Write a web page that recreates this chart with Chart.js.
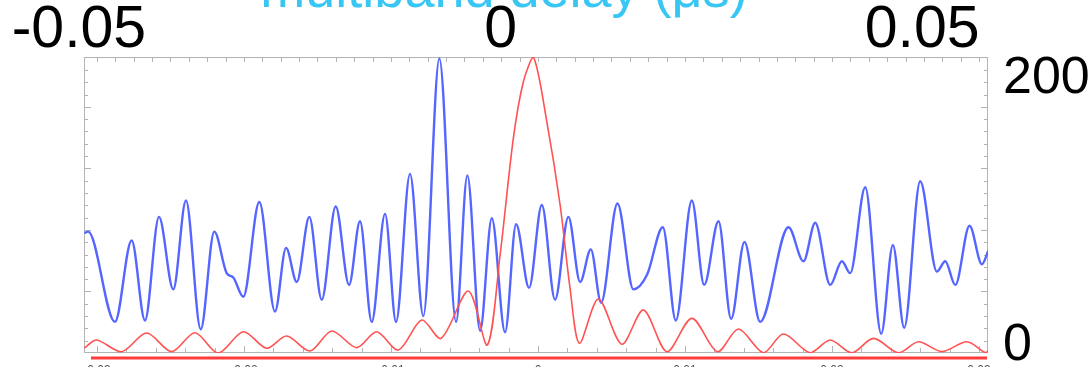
<!DOCTYPE html>
<html>
<head>
<meta charset="utf-8">
<script src="https://cdn.jsdelivr.net/npm/chart.js@4.4.1/dist/chart.umd.min.js"></script>
<style>
  html, body { margin: 0; padding: 0; background: #ffffff; }
  #wrap { position: relative; width: 1091px; height: 367px; }
</style>
</head>
<body>
<div id="wrap"><canvas id="c"></canvas></div>
<script>
// Top axis: multiband delay (μs)
const delayTicks = [-0.05, 0, 0.05];
const delayTickLabels = ['-0.05', '0', '0.05'];

// Right axis: amplitude
const amplitudeTicks = [0, 200];
const amplitudeTickLabels = ['0', '200'];

// Inner frame axis (bottom edge)
const innerTicks = [-0.03, -0.02, -0.01, 0, 0.01, 0.02, 0.03];
const innerTickLabels = ['-0.03', '-0.02', '-0.01', '0', '0.01', '0.02', '0.03'];

// Blue trace: delay positions and amplitudes of its turning points
const blueDelay = [-0.04935, -0.04890, -0.04573, -0.04375, -0.04217, -0.04051, -0.03881, -0.03731, -0.03556, -0.03395,
  -0.03248, -0.03170, -0.03051, -0.02861, -0.02675, -0.02544, -0.02417, -0.02268, -0.02121, -0.01955,
  -0.01797, -0.01667, -0.01528, -0.01370, -0.01240, -0.01074, -0.00916, -0.00726, -0.00528, -0.00394,
  -0.00243, -0.00104, 0.00053, 0.00184, 0.00338, 0.00489, 0.00646, 0.00804, 0.00943, 0.01070,
  0.01192, 0.01386, 0.01575, 0.01738, 0.01924, 0.02078, 0.02268, 0.02414, 0.02584, 0.02734,
  0.02892, 0.03078, 0.03414, 0.03592, 0.03731, 0.03909, 0.04047, 0.04146, 0.04324, 0.04514,
  0.04652, 0.04786, 0.04976, 0.05174, 0.05273, 0.05392, 0.05561, 0.05708, 0.05783];
const blueAmp = [81, 82, 21, 76, 22, 92, 43, 103, 16, 82,
  54, 51, 38, 102, 28, 71, 48, 92, 36, 99,
  46, 89, 21, 94, 21, 121, 25, 199, 21, 120,
  15, 91, 14, 87, 44, 100, 36, 92, 48, 70,
  34, 101, 43, 53, 85, 22, 103, 46, 89, 23,
  75, 21, 85, 62, 88, 46, 62, 54, 112, 13,
  73, 17, 116, 55, 62, 46, 86, 60, 69];

// Red trace: delay positions and amplitudes (lobe peaks and nulls)
const redDelay = [-0.04935, -0.04790, -0.04494, -0.04197, -0.03900, -0.03624, -0.03348, -0.03051, -0.02774, -0.02536,
  -0.02260, -0.02002, -0.01706, -0.01469, -0.01212, -0.00935, -0.00706, -0.00382, -0.00157, -0.00006,
  0.00152, 0.00270, 0.00389, 0.00548, 0.00706, 0.00824, 0.00935, 0.01160, 0.01438, 0.01694,
  0.01972, 0.02268, 0.02572, 0.02821, 0.03117, 0.03355, 0.03671, 0.03909, 0.04166, 0.04422,
  0.04719, 0.04956, 0.05234, 0.05530, 0.05747, 0.05783];
const redAmp = [3.4, 8.8, 0.9, 13.5, 0.9, 13.7, 0, 14.4, 3.2, 11.5,
  1.4, 14.9, 3.6, 14.4, 2.0, 22.3, 9.9, 41.9, 5.4, 66.2,
  145.3, 183.3, 200, 156.3, 100, 43.7, 6.6, 36.5, 5.9, 29.1,
  0.9, 23.4, 0.9, 16.2, 0.2, 12.8, 0.2, 8.8, 0.2, 9.9,
  0.2, 7.6, 0.9, 7.6, 0.2, 1.4];

const toPoints = (xs, ys) => xs.map((x, i) => ({ x: x, y: ys[i] }));
const labelFor = (values, labels) => (v) => {
  const i = values.findIndex(t => Math.abs(t - v) < 1e-9);
  return i >= 0 ? labels[i] : '';
};

// Plot frame, inward tick marks, bottom red rule and the title
const frameDecor = {
  id: 'frameDecor',
  beforeDatasetsDraw(chart) {
    const { ctx, chartArea: a, scales } = chart;
    const xi = scales.x2, yi = scales.yi;
    ctx.save();
    ctx.strokeStyle = '#b4b4b4';
    ctx.lineWidth = 1;
    ctx.strokeRect(a.left + 0.5, a.top + 0.5, a.right - a.left - 1, a.bottom - a.top - 1);
    ctx.beginPath();
    for (let k = -26; k <= 26; k++) {
      const px = Math.round(xi.getPixelForValue(k * 0.00125)) + 0.5;
      if (px <= a.left + 2 || px >= a.right - 2) continue;
      ctx.moveTo(px, a.top); ctx.lineTo(px, a.top + 5);
    }
    for (let k = -16; k <= 16; k++) {
      const px = Math.round(xi.getPixelForValue(k * 0.002)) + 0.5;
      if (px <= a.left + 2 || px >= a.right - 2) continue;
      const len = (k % 5 === 0) ? 7 : 5;
      ctx.moveTo(px, a.bottom); ctx.lineTo(px, a.bottom - len);
    }
    for (let k = 1; k <= 24; k++) {
      const py = Math.round(yi.getPixelForValue(k * 0.2)) + 0.5;
      if (py <= a.top + 2) continue;
      const len = (k % 5 === 0) ? 7 : 4;
      ctx.moveTo(a.left, py); ctx.lineTo(a.left + len, py);
      ctx.moveTo(a.right, py); ctx.lineTo(a.right - len, py);
    }
    ctx.stroke();
    ctx.restore();
  },
  afterDatasetsDraw(chart) {
    const { ctx, chartArea: a } = chart;
    ctx.save();
    ctx.strokeStyle = '#ff3c3c';
    ctx.lineWidth = 3;
    ctx.beginPath();
    ctx.moveTo(a.left + 7, a.bottom + 5);
    ctx.lineTo(a.right - 1, a.bottom + 5);
    ctx.stroke();
    ctx.restore();
  },
  afterDraw(chart) {
    const { ctx } = chart;
    ctx.save();
    ctx.font = '54px "Liberation Sans", Arial, sans-serif';
    ctx.fillStyle = '#38c6f4';
    ctx.textAlign = 'center';
    ctx.textBaseline = 'alphabetic';
    ctx.fillText('multiband delay (μs)', 504, 7);
    ctx.restore();
  }
};

new Chart(document.getElementById('c'), {
  type: 'line',
  data: {
    datasets: [
      {
        label: 'red',
        data: toPoints(redDelay, redAmp),
        xAxisID: 'x', yAxisID: 'y',
        borderColor: '#ff5252',
        borderWidth: 1.6,
        pointRadius: 0,
        tension: 0.3,
        fill: false
      },
      {
        label: 'blue',
        data: toPoints(blueDelay, blueAmp),
        xAxisID: 'x', yAxisID: 'y',
        borderColor: '#5565ff',
        borderWidth: 2.4,
        pointRadius: 0,
        cubicInterpolationMode: 'monotone',
        fill: false
      }
    ]
  },
  options: {
    responsive: true,
    maintainAspectRatio: false,
    animation: false,
    events: [],
    layout: { padding: { left: 84, right: 0, top: 0, bottom: 0 } },
    plugins: { legend: { display: false }, tooltip: { enabled: false }, title: { display: false } },
    scales: {
      x: {
        type: 'linear', position: 'top',
        min: -0.0494, max: 0.0578,
        grid: { display: false }, border: { display: false },
        afterBuildTicks: (s) => { s.ticks = delayTicks.map(v => ({ value: v })); },
        afterFit: (s) => { s.height = 57; s.paddingLeft = 0; s.paddingRight = 0; },
        ticks: {
          autoSkip: false, maxRotation: 0, minRotation: 0,
          padding: -11,
          color: '#000000',
          font: { family: '"Liberation Sans", Arial, sans-serif', size: 59, lineHeight: 1 },
          callback: labelFor(delayTicks, delayTickLabels)
        }
      },
      x2: {
        type: 'linear', position: 'bottom',
        min: -0.03088, max: 0.03061,
        grid: { display: false }, border: { display: false },
        afterBuildTicks: (s) => { s.ticks = innerTicks.map(v => ({ value: v })); },
        afterFit: (s) => { s.height = 14; s.paddingLeft = 0; s.paddingRight = 0; },
        ticks: {
          display: true,
          autoSkip: false, maxRotation: 0, minRotation: 0,
          padding: 2,
          color: '#555555',
          font: { family: '"Liberation Sans", Arial, sans-serif', size: 12, lineHeight: 1.2 },
          callback: labelFor(innerTicks, innerTickLabels)
        }
      },
      y: { type: 'linear', display: false, min: 0, max: 200 },
      yi: { type: 'linear', display: false, min: 0, max: 4.81 },
      yr: {
        type: 'linear', position: 'right',
        min: -5.23, max: 216.07,
        grid: { display: false }, border: { display: false },
        afterBuildTicks: (s) => { s.ticks = amplitudeTicks.map(v => ({ value: v })); },
        afterFit: (s) => { s.width = 103; s.paddingTop = 0; s.paddingBottom = 0; },
        ticks: {
          padding: 7,
          color: '#000000',
          font: { family: '"Liberation Sans", Arial, sans-serif', size: 52, lineHeight: 1 },
          callback: labelFor(amplitudeTicks, amplitudeTickLabels)
        }
      }
    }
  },
  plugins: [frameDecor]
});
</script>
</body>
</html>
